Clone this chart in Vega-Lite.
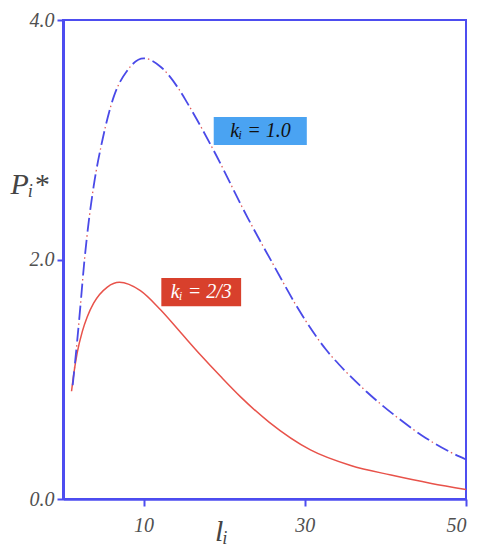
{
  "$schema": "https://vega.github.io/schema/vega-lite/v6.json",
  "width": 403,
  "height": 479,
  "autosize": {"type": "none"},
  "padding": {"left": 63, "top": 20, "right": 13, "bottom": 51},
  "background": "white",
  "config": {
    "view": {"stroke": "#4d4df0", "strokeWidth": 2},
    "font": "Liberation Serif"
  },
  "datasets": {
    "curves": [
      {"series": "k1", "x": 1.2, "y": 0.95},
      {"series": "k1", "x": 1.76, "y": 1.32},
      {"series": "k1", "x": 2.17, "y": 1.62},
      {"series": "k1", "x": 2.6, "y": 1.95},
      {"series": "k1", "x": 3.2, "y": 2.32},
      {"series": "k1", "x": 3.8, "y": 2.61},
      {"series": "k1", "x": 4.9, "y": 3.0},
      {"series": "k1", "x": 6.3, "y": 3.36},
      {"series": "k1", "x": 8.0, "y": 3.58},
      {"series": "k1", "x": 10.0, "y": 3.68},
      {"series": "k1", "x": 12.1, "y": 3.61},
      {"series": "k1", "x": 14.4, "y": 3.42},
      {"series": "k1", "x": 15.4, "y": 3.31},
      {"series": "k1", "x": 18.7, "y": 2.91},
      {"series": "k1", "x": 22.9, "y": 2.35},
      {"series": "k1", "x": 26.4, "y": 1.92},
      {"series": "k1", "x": 28.9, "y": 1.62},
      {"series": "k1", "x": 30.0, "y": 1.5},
      {"series": "k1", "x": 32.6, "y": 1.25},
      {"series": "k1", "x": 35.0, "y": 1.07},
      {"series": "k1", "x": 37.6, "y": 0.9},
      {"series": "k1", "x": 41.5, "y": 0.68},
      {"series": "k1", "x": 45.0, "y": 0.51},
      {"series": "k1", "x": 48.1, "y": 0.39},
      {"series": "k1", "x": 50.0, "y": 0.33},
      {"series": "k23", "x": 1.06, "y": 0.9},
      {"series": "k23", "x": 1.35, "y": 1.05},
      {"series": "k23", "x": 1.76, "y": 1.22},
      {"series": "k23", "x": 2.4, "y": 1.4},
      {"series": "k23", "x": 3.0, "y": 1.52},
      {"series": "k23", "x": 3.8, "y": 1.635},
      {"series": "k23", "x": 5.5, "y": 1.77},
      {"series": "k23", "x": 7.0, "y": 1.81},
      {"series": "k23", "x": 9.6, "y": 1.74},
      {"series": "k23", "x": 12.1, "y": 1.58},
      {"series": "k23", "x": 14.6, "y": 1.39},
      {"series": "k23", "x": 17.1, "y": 1.2},
      {"series": "k23", "x": 19.6, "y": 1.02},
      {"series": "k23", "x": 22.0, "y": 0.855},
      {"series": "k23", "x": 25.6, "y": 0.64},
      {"series": "k23", "x": 30.7, "y": 0.41},
      {"series": "k23", "x": 35.7, "y": 0.28},
      {"series": "k23", "x": 40.7, "y": 0.2},
      {"series": "k23", "x": 45.7, "y": 0.13},
      {"series": "k23", "x": 50.0, "y": 0.08}
    ],
    "labels": [
      {"series": "k1", "text": "kᵢ = 1.0", "x": 18.7, "x2": 30.25, "y": 3.19, "y2": 2.956, "xc": 24.5, "yc": 3.07},
      {"series": "k23", "text": "kᵢ = 2/3", "x": 12.2, "x2": 22.1, "y": 1.845, "y2": 1.61, "xc": 17.15, "yc": 1.725}
    ]
  },
  "layer": [
    {
      "data": {"name": "curves"},
      "transform": [{"filter": "datum.series === 'k23'"}],
      "mark": {"type": "line", "color": "#e8524a", "strokeWidth": 1.5, "interpolate": "monotone"},
      "encoding": {
        "x": {
          "field": "x", "type": "quantitative",
          "scale": {"domain": [0, 50], "nice": false, "zero": true},
          "axis": {
            "values": [10, 30, 50], "format": "d", "grid": false,
            "domainColor": "#4d4df0", "domainWidth": 2.5,
            "tickColor": "#4d4df0", "tickWidth": 2, "tickSize": 7,
            "labelFont": "Liberation Serif", "labelFontStyle": "italic", "labelFontSize": 20,
            "labelColor": "#505050", "labelPadding": 9,
            "title": "lᵢ", "titleFont": "Liberation Serif", "titleFontStyle": "italic",
            "titleFontWeight": "normal", "titleFontSize": 30, "titleColor": "#444444",
            "titleX": 158, "titleY": 41, "titleAlign": "center", "titleBaseline": "alphabetic"
          }
        },
        "y": {
          "field": "y", "type": "quantitative",
          "scale": {"domain": [0, 4], "nice": false},
          "axis": {
            "values": [0, 2, 4], "format": ".1f", "grid": false,
            "domainColor": "#4d4df0", "domainWidth": 3,
            "tickColor": "#4d4df0", "tickWidth": 2, "tickSize": 6,
            "labelFont": "Liberation Serif", "labelFontStyle": "italic", "labelFontSize": 20,
            "labelColor": "#505050", "labelPadding": 3,
            "title": "Pᵢ*", "titleFont": "Liberation Serif", "titleFontStyle": "italic",
            "titleFontWeight": "normal", "titleFontSize": 30, "titleColor": "#444444",
            "titleAngle": 0, "titleX": -34, "titleY": 173, "titleAlign": "center", "titleBaseline": "alphabetic"
          }
        }
      }
    },
    {
      "data": {"name": "curves"},
      "transform": [{"filter": "datum.series === 'k1'"}],
      "mark": {"type": "line", "color": "#e05a5a", "strokeWidth": 1.3, "interpolate": "monotone", "strokeDash": [1.5, 20.5], "strokeDashOffset": 5},
      "encoding": {
        "x": {"field": "x", "type": "quantitative"},
        "y": {"field": "y", "type": "quantitative"}
      }
    },
    {
      "data": {"name": "curves"},
      "transform": [{"filter": "datum.series === 'k1'"}],
      "mark": {"type": "line", "color": "#4a4ae8", "strokeWidth": 1.8, "interpolate": "monotone", "strokeDash": [14, 8]},
      "encoding": {
        "x": {"field": "x", "type": "quantitative"},
        "y": {"field": "y", "type": "quantitative"}
      }
    },
    {
      "data": {"name": "labels"},
      "mark": {"type": "rect"},
      "encoding": {
        "x": {"field": "x", "type": "quantitative"},
        "x2": {"field": "x2"},
        "y": {"field": "y", "type": "quantitative"},
        "y2": {"field": "y2"},
        "color": {
          "field": "series", "type": "nominal", "legend": null,
          "scale": {"domain": ["k1", "k23"], "range": ["#4aa3f2", "#d8402c"]}
        }
      }
    },
    {
      "data": {"name": "labels"},
      "mark": {"type": "text", "font": "Liberation Serif", "fontStyle": "italic", "fontSize": 20, "align": "center", "baseline": "middle"},
      "encoding": {
        "x": {"field": "xc", "type": "quantitative"},
        "y": {"field": "yc", "type": "quantitative"},
        "text": {"field": "text"},
        "fill": {
          "field": "series", "type": "nominal", "legend": null,
          "scale": {"domain": ["k1", "k23"], "range": ["#111111", "#ffffff"]}
        }
      }
    }
  ]
}
